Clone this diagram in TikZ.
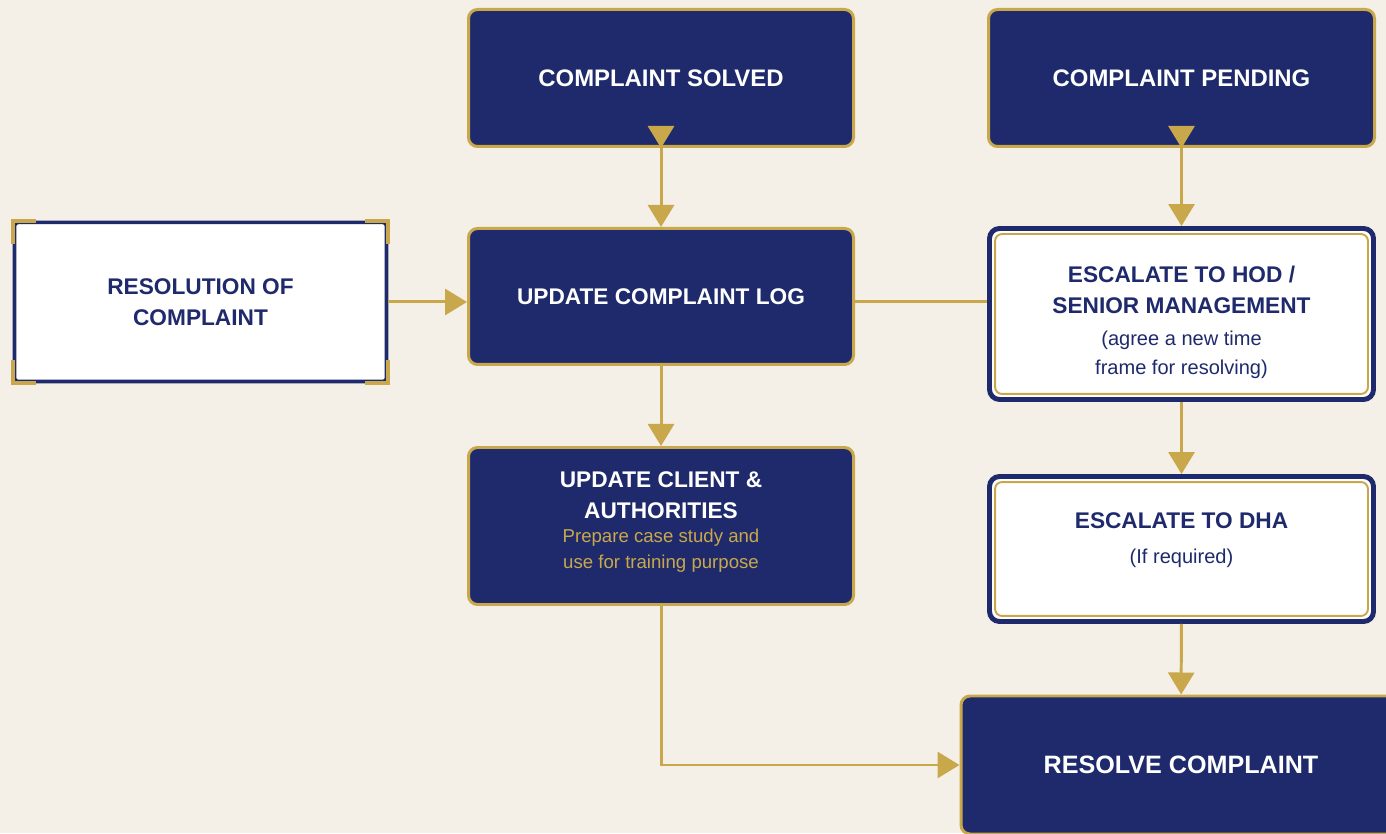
\documentclass[tikz,border=0pt]{standalone}
\usepackage{fontspec}
\setmainfont{Liberation Sans}
\usetikzlibrary{arrows.meta,calc}

\definecolor{navy}{RGB}{30,42,108}
\definecolor{gold}{RGB}{201,168,76}
\definecolor{cream}{RGB}{244,240,232}

\newcommand{\smalltxt}[1]{{\mdseries\fontsize{11.4}{16.5}\selectfont #1}}

\tikzset{
  headfont/.style={font=\bfseries\fontsize{12.9}{17.6}\selectfont},
  darkbox/.style={draw=gold, line width=1.7pt, fill=navy, rounded corners=0.18cm,
    text=white, align=center, minimum width=7.7cm, headfont},
  whitebox/.style={draw=navy, line width=2.8pt, fill=white, rounded corners=0.2cm,
    minimum width=7.68cm},
  boxtext/.style={text=navy, align=center, headfont},
  conn/.style={draw=gold, line width=1.7pt, -{Triangle[length=0.44cm,width=0.52cm]}},
}

\begin{document}
\begin{tikzpicture}
  % page and background
  \useasboundingbox (0,0) rectangle (27.72,16.66);
  \fill[cream] (0,0) rectangle (27.72,16.66);

  % top row
  \node[darkbox, minimum height=2.74cm, font=\bfseries\fontsize{13.6}{17.6}\selectfont] (solved) at (13.22,15.10) {COMPLAINT SOLVED};
  \node[darkbox, minimum height=2.74cm, minimum width=7.72cm, font=\bfseries\fontsize{13.6}{17.6}\selectfont] (pending) at (23.63,15.10) {COMPLAINT PENDING};

  % middle row
  \node[draw=navy, line width=2pt, fill=white, rounded corners=2pt, boxtext,
    minimum width=7.44cm, minimum height=3.18cm] (res) at (4.01,10.62) {RESOLUTION OF\\COMPLAINT};
  \node[darkbox, minimum height=2.72cm] (log) at (13.22,10.73) {UPDATE COMPLAINT LOG};
  \node[whitebox, minimum height=3.42cm] (hod) at (23.63,10.38) {};
  \node[boxtext] (hodtext) at ([yshift=-0.16cm]hod.center)
    {ESCALATE TO HOD /\\SENIOR MANAGEMENT\\[0.6pt]\smalltxt{(agree a new time}\\[-1.1pt]\smalltxt{frame for resolving)}};

  % lower rows
  \node[darkbox, minimum height=3.14cm] (client) at (13.22,6.14) {};
  \node[boxtext, text=white] (clienttext) at ([yshift=0.08cm]client.center)
    {UPDATE CLIENT \&\\AUTHORITIES\\[-4pt]\smalltxt{\fontsize{10.6}{14}\selectfont\color{gold}Prepare case study and}\\[-2.8pt]\smalltxt{\fontsize{10.6}{14}\selectfont\color{gold}use for training purpose}};
  \node[whitebox, minimum height=2.9cm] (dha) at (23.63,5.68) {};
  \node[boxtext] (dhatext) at ([yshift=0.17cm]dha.center) {ESCALATE TO DHA\\[2.2pt]\smalltxt{(If required)}};
  \node[darkbox, minimum width=8.8cm, minimum height=2.76cm,
    font=\bfseries\fontsize{14.3}{17.6}\selectfont] (resolve) at (23.62,1.36) {RESOLVE COMPLAINT};

  % gold corner brackets on the resolution box
  \foreach \c/\dx/\dy in {north west/1/-1, north east/-1/-1, south west/1/1, south east/-1/1}{
    \draw[gold, line width=2.4pt] ([xshift=\dx*0.46cm]res.\c) -- (res.\c) -- ([yshift=\dy*0.46cm]res.\c);
  }

  % inner gold frame of the escalation boxes
  \foreach \b in {hod,dha}{
    \draw[gold, line width=1.1pt, rounded corners=0.14cm]
      ([shift={(0.16,-0.16)}]\b.north west) rectangle ([shift={(-0.16,0.16)}]\b.south east);
  }

  % connectors
  \draw[conn, {Triangle[reversed,length=0.44cm,width=0.52cm]}-{Triangle[length=0.44cm,width=0.52cm]},
    shorten <=-0.44cm] (solved) -- (log);
  \draw[conn, {Triangle[reversed,length=0.44cm,width=0.52cm]}-{Triangle[length=0.44cm,width=0.52cm]},
    shorten <=-0.44cm] (pending) -- (hod);
  \draw[conn] (res.east) -- (res.east -| log.west);
  \draw[draw=gold, line width=1.7pt] (res.east -| log.east) -- (res.east -| hod.west);
  \draw[conn] (log) -- (client);
  \draw[conn] (hod) -- (dha);
  \draw[conn] (dha) -- (resolve);
  \draw[conn] (client.south) |- (resolve.west);
\end{tikzpicture}
\end{document}
